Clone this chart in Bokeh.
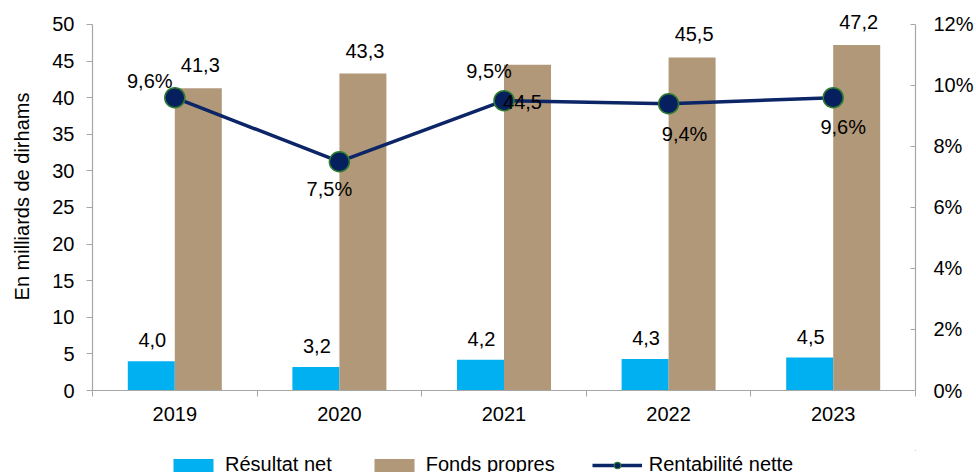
from bokeh.plotting import figure
from bokeh.layouts import column
from bokeh.models import (ColumnDataSource, Range1d, LinearAxis, FixedTicker,
                          SingleIntervalTicker, PrintfTickFormatter, LabelSet,
                          Legend, LegendItem)
from bokeh.core.properties import value
from bokeh.transform import dodge
from bokeh.embed import file_html
from bokeh.resources import INLINE

# ---- data ----
years = ["2019", "2020", "2021", "2022", "2023"]
resultat_net = [4.0, 3.2, 4.2, 4.3, 4.5]
fonds_propres = [41.3, 43.3, 44.5, 45.5, 47.2]
rentabilite = [9.6, 7.5, 9.5, 9.4, 9.6]  # %
series_names = ["Résultat net", "Fonds propres", "Rentabilité nette"]

# ---- label placement (style) ----
fonds_dx = [2, 2, -5, 2, 2]
fonds_dy = [23, 23, -37, 23, 23]
pct_dx = [-25, -10, -15, 16, 10]
pct_dy = [17, -27, 30, -30, -29]

FONT = "Liberation Sans"
C_RES = "#00B0F0"
C_FP = "#B09878"
C_LINE = "#0B2567"
C_MARK = "#06205F"
C_MARK_EDGE = "#2D7A30"
C_AXIS = "#A6A6A6"

def fr(v, suffix=""):
    return f"{v:.1f}".replace(".", ",") + suffix

n = len(years)
xc = [i + 0.5 for i in range(n)]  # category centres on a 0..n axis

src = ColumnDataSource(dict(
    year=years, xc=xc, res=resultat_net, fp=fonds_propres, rent=rentabilite,
    res_txt=[fr(v) for v in resultat_net],
    fp_txt=[fr(v) for v in fonds_propres],
    rent_txt=[fr(v, "%") for v in rentabilite],
    fp_dx=fonds_dx, fp_dy=fonds_dy, pct_dx=pct_dx, pct_dy=pct_dy,
))

# axes show 0-50 and 0-12 %; the frame goes a little higher so the top label is not clipped
Y_MAX, P_MAX, HEAD = 50, 12, 1.06
p = figure(x_range=Range1d(0, n), y_range=Range1d(0, Y_MAX * HEAD),
           width=976, height=450,
           output_backend="svg", toolbar_location=None, x_axis_location=None,
           min_border_left=92, min_border_right=61, min_border_top=2,
           min_border_bottom=60, outline_line_color=None,
           background_fill_color="white", border_fill_color="white")
p.grid.visible = False

bw = 0.2855
p.vbar(x=dodge("xc", -bw / 2), top="res", width=bw,
       source=src, fill_color=C_RES, line_color=None)
p.vbar(x=dodge("xc", bw / 2), top="fp", width=bw,
       source=src, fill_color=C_FP, line_color=None)

p.extra_y_ranges = {"pct": Range1d(0, P_MAX * HEAD)}

p.line(x="xc", y="rent", source=src, y_range_name="pct",
       line_color=C_LINE, line_width=3.5)
p.scatter(x="xc", y="rent", source=src, y_range_name="pct", size=20,
          fill_color=C_MARK, line_color=C_MARK_EDGE, line_width=1.5)

# ---- axes ----
yl = p.yaxis[0]
yl.bounds = (0, Y_MAX)
yl.ticker = SingleIntervalTicker(interval=5, num_minor_ticks=0)
yl.axis_label = "En milliards de dirhams"
yl.axis_label_text_font = FONT
yl.axis_label_text_font_size = "20px"
yl.axis_label_text_font_style = "normal"
yl.axis_label_text_color = "black"
yl.axis_label_standoff = 16
yl.major_label_standoff = 12
yl.major_tick_out = 6
yl.major_tick_in = 0
yl.minor_tick_out = 0
yl.minor_tick_in = 0

yr = LinearAxis(y_range_name="pct", bounds=(0, P_MAX),
                ticker=SingleIntervalTicker(interval=2, num_minor_ticks=0),
                formatter=PrintfTickFormatter(format="%d%%"))
yr.major_tick_in = 5
yr.major_tick_out = 0
yr.minor_tick_in = 0
yr.minor_tick_out = 0
yr.major_label_standoff = 18
p.add_layout(yr, "right")

xb = LinearAxis(ticker=FixedTicker(ticks=xc,
                                   minor_ticks=[float(i) for i in range(n + 1)]),
                major_label_overrides={x: y for x, y in zip(xc, years)})
xb.major_tick_in = 0
xb.major_tick_out = 0
xb.minor_tick_in = 0
xb.minor_tick_out = 6
xb.major_label_standoff = 10
p.add_layout(xb, "below")

for ax in (yl, yr, xb):
    ax.axis_line_color = C_AXIS
    ax.axis_line_width = 1.2
    ax.major_tick_line_color = C_AXIS
    ax.minor_tick_line_color = C_AXIS
    ax.major_label_text_font = FONT
    ax.major_label_text_font_size = "20px"
    ax.major_label_text_color = "black"

# ---- data labels ----
common = dict(source=src, text_font=value(FONT), text_font_size="20px",
              text_color="black", text_align="center", text_baseline="middle")
p.add_layout(LabelSet(x=dodge("xc", -bw / 2), y="res",
                      text="res_txt", x_offset=1, y_offset=21, **common))
p.add_layout(LabelSet(x=dodge("xc", bw / 2), y="fp",
                      text="fp_txt", x_offset="fp_dx", y_offset="fp_dy", **common))
p.add_layout(LabelSet(x="xc", y="rent", y_range_name="pct",
                      text="rent_txt", x_offset="pct_dx", y_offset="pct_dy", **common))

# ---- legend strip (separate small figure under the chart) ----
# its ranges are set away from the data so its renderers only feed the legend
lg = figure(width=976, height=22, x_range=Range1d(-20, -19), y_range=Range1d(-20, -19),
            output_backend="svg", toolbar_location=None,
            x_axis_location=None, y_axis_location=None, min_border=0,
            outline_line_color=None, background_fill_color="white",
            border_fill_color="white")
lg.grid.visible = False
g_res = lg.vbar(x="xc", top="res", width=bw, source=src,
                fill_color=C_RES, line_color=None)
g_fp = lg.vbar(x="xc", top="fp", width=bw, source=src,
               fill_color=C_FP, line_color=None)
g_line = lg.line(x="xc", y="rent", source=src, line_color=C_LINE, line_width=3.5)
g_mark = lg.scatter(x="xc", y="rent", source=src, size=12, fill_color=C_MARK,
                    line_color=C_MARK_EDGE, line_width=1.2)
legend = Legend(items=[LegendItem(label=series_names[0], renderers=[g_res]),
                       LegendItem(label=series_names[1], renderers=[g_fp]),
                       LegendItem(label=series_names[2], renderers=[g_line, g_mark])],
                location=(76, -4), orientation="horizontal",
                glyph_width=50, glyph_height=16, label_standoff=7,
                label_text_font=FONT, label_text_font_size="20px",
                label_text_color="black", padding=0, margin=0, spacing=37,
                border_line_color=None, background_fill_alpha=0)
lg.add_layout(legend)

page = column(p, lg, spacing=0)
open("out.html", "w").write(file_html(page, INLINE))
